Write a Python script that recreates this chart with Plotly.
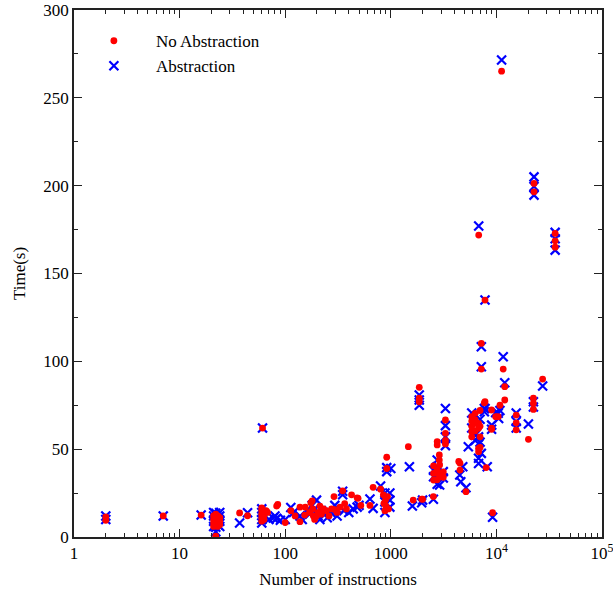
import plotly.graph_objects as go

# No Abstraction (red dots): instructions, time(s)
no_abs_x = [2, 2, 7, 16,
            21, 21, 21, 21, 22, 22, 22, 22, 23, 23, 23, 23, 24, 24, 24, 22,
            37, 44,
            60, 60, 60, 60, 60, 61, 63, 63, 66, 68, 83, 85, 100, 113, 124, 138, 138, 153, 155,
            170, 175, 180, 182, 185, 190, 198, 205, 213, 220, 230, 245, 260, 275, 290, 295, 310,
            330, 350, 366, 380, 425, 480, 490, 520,
            635, 680, 800, 850, 860, 880, 890, 900, 915, 915, 930, 950,
            1466, 1630, 1860, 1860, 1860, 1960, 2000, 2530, 2540, 2540, 2540, 2750, 2750, 2750,
            2750, 2750, 2880, 2880, 2900, 2900, 3140, 3140, 3290, 3290, 3290, 3290, 4400, 4520,
            4520, 5150,
            5840, 5840, 5840, 5840, 5840, 6300, 6300, 6300, 6300, 6780, 6780, 6780, 6780, 7000,
            7000, 7000, 7000, 6800, 7200, 7200, 7690, 7800, 7800, 8000, 9000, 9000, 9020, 9200,
            9850, 10400, 10800, 11200, 11600, 12000, 12000, 15400, 15400, 15400, 20100, 22400,
            22400, 22400, 22700, 22700, 27400, 36000, 36000, 36000]
no_abs_y = [9.5, 11.5, 12, 12.5,
            6, 8, 10, 12, 7, 9, 11, 13, 6, 8, 10, 12, 7, 9, 11, 0.5,
            13.7, 12.1,
            9, 11, 13, 15, 16.5, 62, 10, 12, 15, 14, 17.6, 18.5, 8.2, 15, 12, 8.7, 17, 12.5, 17,
            14, 19.5, 20.5, 16, 12, 10, 12, 14, 17.6, 13, 16, 15, 12, 16, 23, 15.6, 14,
            17, 26.3, 19, 16, 24, 22.3, 22, 18,
            18, 28.3, 27.2, 24, 19, 15, 21, 17.5, 39, 45.4, 23, 16,
            51.4, 21, 85.2, 79, 77, 21.6, 21.5, 23, 40.5, 36.2, 32.4, 54.3, 52.4, 38,
            36.5, 32.6, 46.7, 43.8, 41, 34.3, 37, 34, 66.6, 59, 55, 53, 43, 42,
            38.1, 25.8,
            68.5, 66, 63, 60, 57, 70.4, 66.6, 64.7, 60.4, 64.7, 61.9, 50.5, 48.6, 72,
            63, 57, 51, 171.9, 110.2, 95.6, 76.4, 134.9, 77, 39.5, 72.3, 61.3, 61.9, 13.8,
            68.5, 68.5, 75, 265.2, 95.6, 85.6, 78, 69.4, 65, 61, 55.6, 79,
            76, 72.6, 201.3, 196.5, 89.9, 172.8, 168.6, 165]

# Abstraction (blue crosses): instructions, time(s)
abs_x = [2, 2, 7, 16,
         21, 21, 21, 21, 22, 22, 22, 23, 23, 24, 24, 24, 24, 22,
         37, 44,
         60, 60, 60, 60, 61, 65, 70, 77, 80, 83, 90, 100, 113, 120, 138, 145, 160, 170, 180,
         190, 198, 205, 213, 220, 235, 250, 270, 295, 310, 350, 350, 360, 400, 440, 480, 500,
         635, 680, 800, 880, 880, 880, 915, 915, 980, 980, 980, 1000,
         1500, 1600, 1860, 1860, 1860, 1960, 2000, 2530, 2540, 2540, 2750, 2750, 2750, 2750,
         2900, 2900, 3140, 3140, 3290, 3290, 3290, 3290, 4500, 4600, 4800, 5150, 5420,
         5840, 5840, 6300, 6300, 6780, 6780, 6780, 6800, 7000, 7000, 7200, 7200, 7200, 7690,
         7690, 7800, 7800, 8190, 9020, 9000, 9200, 9850, 10400, 10800, 10500, 11200, 11600,
         12000, 15400, 15400, 15400, 20100, 22400, 22400, 22700, 22700, 22700, 27400, 36000,
         36000, 36000]
abs_y = [10, 12, 12, 12.5,
         6, 9, 12, 14, 5.5, 10, 13.5, 7, 11, 6, 9, 12, 14, 3,
         8, 13.8,
         8, 10, 14, 16, 62, 12, 10, 10.8, 12, 10.6, 9.5, 10, 16.8, 14, 12, 10, 15, 13, 18,
         16, 21, 12, 10, 15, 13, 11, 14, 18, 12, 26, 24, 15, 14, 16, 17, 18,
         21.6, 16.3, 29, 14, 20, 25, 37.2, 39.5, 17, 21, 25, 39,
         40, 17.6, 80.8, 78, 75, 19.5, 21, 21.5, 38, 34.3, 43.8, 40, 34.8, 30,
         36, 29.6, 37.2, 33.6, 73.2, 63.4, 57, 52, 35.3, 31.5, 40, 28, 51.4,
         70.6, 62, 58, 55, 57, 44.8, 41.8, 177, 67, 54, 108.3, 96.9, 47.6, 73.2,
         71.3, 134.9, 73.2, 40, 63.7, 61.3, 11.2, 70.8, 70.5, 72, 67.5, 271.5, 102.6,
         87.8, 70.6, 65.8, 62, 64.3, 77, 74, 205, 199.5, 194.6, 86, 173.4,
         169.8, 163.3]

x_tickvals = [1, 10, 100, 1000, 10000, 100000]
x_ticktext = ["1", "10", "100", "1000", "10<sup>4</sup>", "10<sup>5</sup>"]
y_tickvals = [0, 50, 100, 150, 200, 250, 300]

x_minor = [m * 10 ** d for d in range(5) for m in range(2, 10)]

FONT = "Liberation Serif, Times New Roman, serif"
AX = "#222222"

fig = go.Figure()
fig.add_trace(go.Scatter(
    x=abs_x, y=abs_y, mode="markers", name="Abstraction", legendrank=2,
    marker=dict(symbol="x-thin", size=9, color="#0000ff",
                line=dict(width=2.2, color="#0000ff")),
))
fig.add_trace(go.Scatter(
    x=no_abs_x, y=no_abs_y, mode="markers", name="No Abstraction", legendrank=1,
    marker=dict(symbol="circle", size=6.8, color="#ff0000", line=dict(width=0)),
))

fig.update_layout(
    width=613, height=598,
    margin=dict(l=74, r=11, t=10, b=61, autoexpand=False),
    paper_bgcolor="white", plot_bgcolor="white",
    font=dict(family=FONT, size=17, color="black"),
    showlegend=True,
    legend=dict(x=-0.004, y=0.975, xanchor="left", yanchor="top",
                bgcolor="rgba(0,0,0,0)", font=dict(size=17),
                itemwidth=74, tracegroupgap=0),
)
fig.update_xaxes(
    type="log", range=[0, 5], automargin=False, ticklabeloverflow="allow",
    tickmode="array", tickvals=x_tickvals, ticktext=x_ticktext,
    ticks="inside", ticklen=8, tickwidth=1.2, tickcolor=AX,
    minor=dict(tickmode="array", tickvals=x_minor, ticks="inside", ticklen=4,
               tickwidth=1.2, tickcolor=AX, showgrid=False),
    showline=True, linewidth=1.6, linecolor=AX, mirror="allticks",
    showgrid=False, zeroline=False,
    tickfont=dict(size=17),
    title=dict(text="Number of instructions", font=dict(size=17), standoff=11),
)
fig.update_yaxes(
    range=[0, 300], automargin=False, ticklabeloverflow="allow",
    tickmode="array", tickvals=y_tickvals,
    ticks="inside", ticklen=8, tickwidth=1.2, tickcolor=AX,
    minor=dict(dtick=25, tick0=0, ticks="inside", ticklen=4, tickwidth=1.2,
               tickcolor=AX, showgrid=False),
    showline=True, linewidth=1.6, linecolor=AX, mirror="allticks",
    showgrid=False, zeroline=False,
    tickfont=dict(size=17),
    title=dict(text="Time(s)", font=dict(size=17), standoff=13),
)

fig.write_html("out.html", config={"displayModeBar": False},
               post_script="document.body.style.margin='0';document.body.style.overflow='hidden';")
